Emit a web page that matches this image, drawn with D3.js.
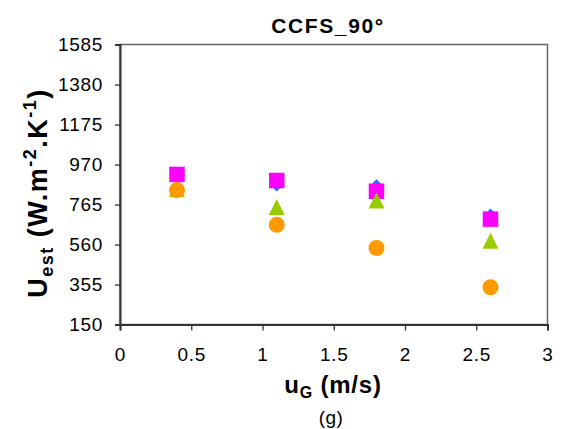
<!DOCTYPE html>
<html><head><meta charset="utf-8">
<script src="https://cdn.jsdelivr.net/npm/d3@7"></script>
<style>body{margin:0;background:#fff;} text{font-family:"Liberation Sans",Arial,sans-serif;}</style>
</head><body><svg id="c" width="562" height="429"></svg>
<script>
const xVals = [0.4, 1.1, 1.8, 2.6];
const seriesDiamond = [915, 872, 853, 704];
const seriesSquare = [919, 888, 833, 690];
const seriesTriangle = [844, 752, 785, 579];
const seriesCircle = [839, 661, 542, 341];
const yTicks = [150, 355, 560, 765, 970, 1175, 1380, 1585];
const xTicks = [0, 0.5, 1, 1.5, 2, 2.5, 3];

const svg = d3.select("#c");
const L = 120, R = 547.5, T = 44.5, B = 324.5;
const x = d3.scaleLinear().domain([0, 3]).range([L, R]);
const y = d3.scaleLinear().domain([150, 1585]).range([B, T]);

// frame
svg.append("rect").attr("x", L).attr("y", T).attr("width", R - L).attr("height", B - T)
  .attr("fill", "none").attr("stroke", "#666").attr("stroke-width", 1.5);

const ax = svg.append("g").attr("transform", `translate(0,${B})`)
  .call(d3.axisBottom(x).tickValues(xTicks).tickSize(6).tickPadding(17).tickFormat(d3.format("")));
const ay = svg.append("g").attr("transform", `translate(${L},0)`)
  .call(d3.axisLeft(y).tickValues(yTicks).tickSize(5).tickPadding(12).tickFormat(d3.format("d")));
[ax, ay].forEach(g => {
  g.select(".domain").attr("stroke", "#333").attr("stroke-width", 2);
  g.selectAll(".tick line").attr("stroke", "#333").attr("stroke-width", 1.3);
  g.selectAll("text").attr("font-size", 19).attr("fill", "#000")
    .attr("letter-spacing", 0.7)
    .style("font-family", '"Liberation Sans",Arial,sans-serif');
});

const tri = (s) => `M0,${-s/2}L${s/2},${s/2}L${-s/2},${s/2}Z`;
const dia = (s) => `M0,${-s/2}L${s/2},0L0,${s/2}L${-s/2},0Z`;
const sq = (s) => `M${-s/2},${-s/2}h${s}v${s}h${-s}Z`;
function plot(data, pathStr, color) {
  svg.append("g").selectAll("path").data(data).join("path")
    .attr("d", pathStr)
    .attr("transform", (d, i) => `translate(${x(xVals[i])},${y(d)})`)
    .attr("fill", color);
}
plot(seriesDiamond, dia(16), "#3366FF");
plot(seriesSquare, sq(15.5), "#FF00FF");
plot(seriesTriangle, tri(16), "#99CC00");
plot(seriesCircle, d3.symbol().type(d3.symbolCircle).size(Math.PI * 8 * 8)(), "#FF9900");

// title
svg.append("text").attr("x", 328).attr("y", 32.5).attr("text-anchor", "middle")
  .attr("font-size", 21).attr("font-weight", "bold").attr("letter-spacing", 1.6).text("CCFS_90°");

// x title
const xt = svg.append("text").attr("x", 333).attr("y", 393).attr("text-anchor", "middle")
  .attr("font-size", 24).attr("font-weight", "bold").attr("letter-spacing", 0.8);
xt.append("tspan").text("u");
xt.append("tspan").attr("font-size", 16).attr("dy", 5).text("G");
xt.append("tspan").attr("dy", -5).text(" (m/s)");

svg.append("text").attr("x", 331).attr("y", 424).attr("text-anchor", "middle")
  .attr("font-size", 19).attr("letter-spacing", 0.5).text("(g)");

// y title
const yt = svg.append("text").attr("transform", "translate(46.5,193) rotate(-90)")
  .attr("text-anchor", "middle").attr("font-size", 27).attr("font-weight", "bold")
  .attr("letter-spacing", 1.5);
yt.append("tspan").text("U");
yt.append("tspan").attr("font-size", 18).attr("dy", 6).text("est");
yt.append("tspan").attr("dy", -6).text(" (W.m");
yt.append("tspan").attr("font-size", 18).attr("dy", -11).text("-2");
yt.append("tspan").attr("dy", 11).text(".K");
yt.append("tspan").attr("font-size", 18).attr("dy", -11).text("-1");
yt.append("tspan").attr("dy", 11).text(")");
</script></body></html>
